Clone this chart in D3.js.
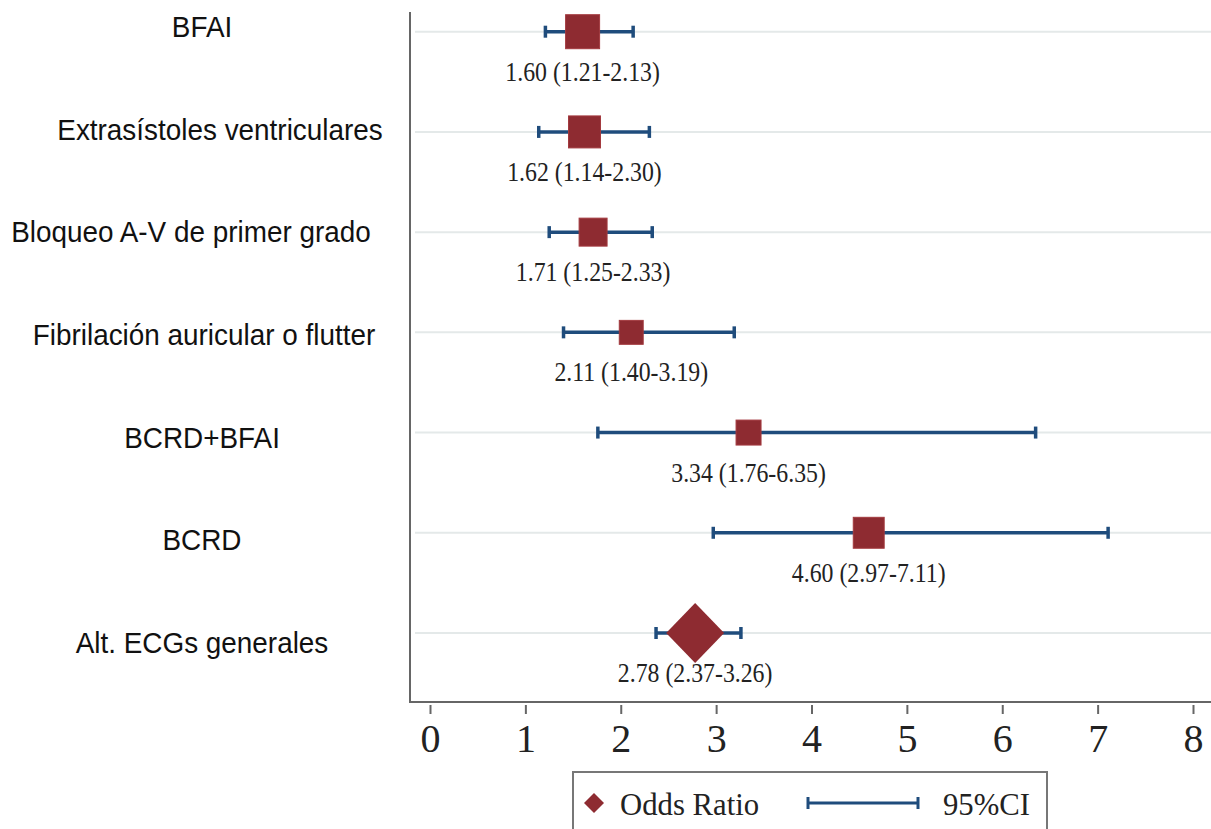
<!DOCTYPE html>
<html>
<head>
<meta charset="utf-8">
<script src="https://cdn.jsdelivr.net/npm/d3@7"></script>
<style>
  html, body { margin: 0; padding: 0; background: #fff; }
  svg { display: block; }
</style>
</head>
<body>
<script>
// data
const categories = ["BFAI", "Extrasístoles ventriculares", "Bloqueo A-V de primer grado",
  "Fibrilación auricular o flutter", "BCRD+BFAI", "BCRD", "Alt. ECGs generales"];
const oddsRatio = [1.60, 1.62, 1.71, 2.11, 3.34, 4.60, 2.78];
const ciLow = [1.21, 1.14, 1.25, 1.40, 1.76, 2.97, 2.37];
const ciHigh = [2.13, 2.30, 2.33, 3.19, 6.35, 7.11, 3.26];
const weights = [22.6, 20.0, 15.3, 11.2, 12.2, 18.7, null]; // last row is the pooled estimate
const xTicks = [0, 1, 2, 3, 4, 5, 6, 7, 8];
const legendLabels = ["Odds Ratio", "95%CI"];

// layout only: the row labels were placed by hand in the original
const labelCenter = {
  "Extrasístoles ventriculares": 220,
  "Bloqueo A-V de primer grado": 191,
  "Fibrilación auricular o flutter": 204
};

const W = 1211, H = 829;
const red = "#8e2b31", blue = "#1f4c7c";

let svg = d3.select("body").append("svg")
  .attr("width", W)
  .attr("height", H);

const x = d3.scaleLinear().domain([0, 8]).range([430, 1193]);
const y = d3.scalePoint().domain(categories).range([31.7, 633]);
const yLab = d3.scalePoint().domain(categories).range([37, 653]);
const boxSize = d3.scaleSqrt().domain([0, 22.6]).range([0, 34]);

const rows = categories.map((c, i) => ({
  cat: c, or: oddsRatio[i], lo: ciLow[i], hi: ciHigh[i], w: weights[i]
}));

// light grid lines on each row
svg.selectAll(".grid")
  .data(rows)
  .enter()
    .append("line")
      .attr("x1", 415).attr("x2", W)
      .attr("y1", d => y(d.cat)).attr("y2", d => y(d.cat))
      .attr("stroke", "#e4e9e9")
      .attr("stroke-width", 2);

// axes lines
svg.append("line")
  .attr("x1", 410).attr("x2", 410).attr("y1", 12).attr("y2", 703)
  .attr("stroke", "#666").attr("stroke-width", 2);
svg.append("line")
  .attr("x1", 409).attr("x2", W).attr("y1", 702).attr("y2", 702)
  .attr("stroke", "#666").attr("stroke-width", 2);

const xAxis = svg.append("g")
  .attr("transform", "translate(0,705)")
  .call(d3.axisBottom(x).tickValues(xTicks).tickSize(9).tickSizeOuter(0).tickFormat(d3.format("d")));
xAxis.select(".domain").remove();
xAxis.selectAll(".tick line").attr("stroke", "#666").attr("stroke-width", 2);
xAxis.selectAll(".tick text")
  .attr("y", 47).attr("dy", null)
  .attr("font-family", "'Liberation Serif', 'Times New Roman', serif")
  .attr("font-size", "40px")
  .attr("fill", "#222");

// confidence intervals
const ci = svg.selectAll(".ci")
  .data(rows)
  .enter()
    .append("g")
      .attr("stroke", blue)
      .attr("stroke-width", 3.5);
ci.append("line")
  .attr("x1", d => x(d.lo)).attr("x2", d => x(d.hi))
  .attr("y1", d => y(d.cat)).attr("y2", d => y(d.cat));
ci.append("line")
  .attr("x1", d => x(d.lo)).attr("x2", d => x(d.lo))
  .attr("y1", d => y(d.cat) - 6).attr("y2", d => y(d.cat) + 6);
ci.append("line")
  .attr("x1", d => x(d.hi)).attr("x2", d => x(d.hi))
  .attr("y1", d => y(d.cat) - 6).attr("y2", d => y(d.cat) + 6);

// weighted boxes
svg.selectAll(".box")
  .data(rows.filter(d => d.w != null))
  .enter()
    .append("rect")
      .attr("x", d => x(d.or) - boxSize(d.w) / 2)
      .attr("y", d => y(d.cat) - boxSize(d.w) / 2)
      .attr("width", d => boxSize(d.w))
      .attr("height", d => boxSize(d.w))
      .attr("fill", red)
      .attr("stroke", "#a33a3f")
      .attr("stroke-width", 1);

// pooled diamond
svg.selectAll(".diamond")
  .data(rows.filter(d => d.w == null))
  .enter()
    .append("path")
      .attr("d", d => {
        const cx = x(d.or), cy = y(d.cat);
        return `M${cx - 29},${cy} L${cx},${cy - 30} L${cx + 29},${cy} L${cx},${cy + 30} Z`;
      })
      .attr("fill", red);

// value labels
svg.selectAll(".val")
  .data(rows)
  .enter()
    .append("text")
      .attr("transform", d => `translate(${x(d.or)},${y(d.cat) + 49}) scale(0.85,1)`)
      .attr("text-anchor", "middle")
      .attr("font-family", "'Liberation Serif', 'Times New Roman', serif")
      .attr("font-size", "28px")
      .attr("fill", "#222")
      .text(d => `${d.or.toFixed(2)} (${d.lo.toFixed(2)}-${d.hi.toFixed(2)})`);

// category labels
svg.selectAll(".cat")
  .data(rows)
  .enter()
    .append("text")
      .attr("transform", d => `translate(${labelCenter[d.cat] || 202},${yLab(d.cat)}) scale(0.93,1)`)
      .attr("text-anchor", "middle")
      .attr("font-family", "'Liberation Sans', Arial, sans-serif")
      .attr("font-size", "30px")
      .attr("fill", "#111")
      .text(d => d.cat);

// legend
const leg = svg.append("g");
leg.append("rect")
  .attr("x", 573).attr("y", 772).attr("width", 474).attr("height", 80)
  .attr("fill", "#fff").attr("stroke", "#777").attr("stroke-width", 2);
leg.append("path")
  .attr("d", "M584,803 L594,793 L604,803 L594,813 Z")
  .attr("fill", red);
leg.append("line")
  .attr("x1", 808).attr("x2", 918).attr("y1", 803).attr("y2", 803)
  .attr("stroke", blue).attr("stroke-width", 3);
[808, 918].forEach(px => {
  leg.append("line")
    .attr("x1", px).attr("x2", px).attr("y1", 797).attr("y2", 809)
    .attr("stroke", blue).attr("stroke-width", 3);
});
leg.selectAll(".lt")
  .data(legendLabels)
  .enter()
    .append("text")
      .attr("transform", (d, i) => `translate(${i === 0 ? 620 : 943},815) scale(0.96,1)`)
      .attr("font-family", "'Liberation Serif', 'Times New Roman', serif")
      .attr("font-size", "32px")
      .attr("fill", "#222")
      .text(d => d);
</script>
</body>
</html>
